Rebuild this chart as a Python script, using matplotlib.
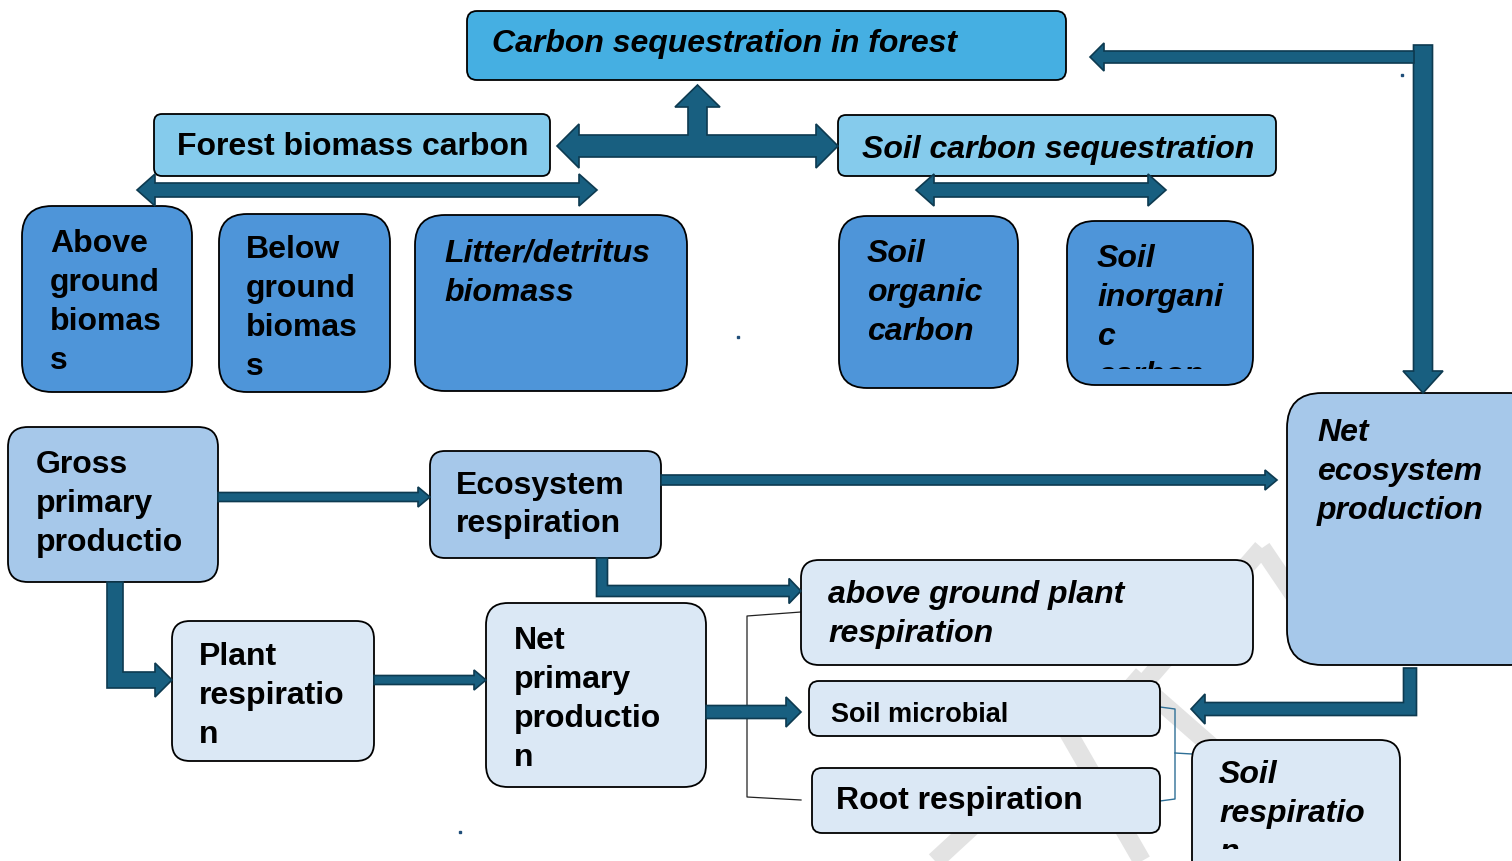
import numpy as np
import matplotlib.pyplot as plt
from matplotlib import font_manager
from matplotlib.patches import FancyBboxPatch, Polygon
from matplotlib.transforms import Bbox

W, H = 1512, 861

ARROW = '#185f80'
ARROW_EDGE = '#0d3a50'
FILLS = {'sky': '#45afe2', 'pale_sky': '#85cbec', 'mid': '#4e95d9',
         'light': '#a6c8ea', 'pale': '#dbe8f5'}

# node texts (lines as they wrap in the original)
node_text = [
    ["Carbon sequestration in forest"],
    ["Forest biomass carbon"],
    ["Soil carbon sequestration"],
    ["Above", "ground", "biomas", "s"],
    ["Below", "ground", "biomas", "s"],
    ["Litter/detritus", "biomass"],
    ["Soil", "organic", "carbon"],
    ["Soil", "inorgani", "c", "carbon"],
    ["Net", "ecosystem", "production"],
    ["Gross", "primary", "productio"],
    ["Ecosystem", "respiration"],
    ["above ground plant", "respiration"],
    ["Plant", "respiratio", "n"],
    ["Net", "primary", "productio", "n"],
    ["Soil microbial"],
    ["Root respiration"],
    ["Soil", "respiratio", "n"],
]
node_fill = ['sky', 'pale_sky', 'pale_sky', 'mid', 'mid', 'mid', 'mid', 'mid',
             'light', 'light', 'light', 'pale', 'pale', 'pale', 'pale', 'pale', 'pale']
node_italic = [True, False, True, False, False, True, True, True,
               True, False, False, True, False, False, False, False, True]

# layout in pixels (x0, y0, x1, y1), y measured downwards
node_box = [(467, 11, 1066, 80), (154, 114, 550, 176), (838, 115, 1276, 176),
            (22, 206, 192, 392), (219, 214, 390, 392), (415, 215, 687, 391),
            (839, 216, 1018, 388), (1067, 221, 1253, 385), (1287, 393, 1545, 665),
            (8, 427, 218, 582), (430, 451, 661, 558), (801, 560, 1253, 665),
            (172, 621, 374, 761), (486, 603, 706, 787), (809, 681, 1160, 736),
            (812, 768, 1160, 833), (1192, 740, 1400, 900)]
node_radius = [10, 8, 8, 30, 28, 30, 28, 28, 35, 20, 15, 18, 18, 22, 10, 10, 20]
node_anchor = [(492, 52), (177, 155), (862, 158), (50, 252), (246, 258), (444, 262),
               (867, 262), (1097, 267), (1317, 441), (36, 473), (456, 494),
               (828, 603), (199, 665), (514, 649), (831, 722), (836, 809), (1219, 783)]
line_step = [39] * 10 + [38] + [39] * 6
clip_bottom = {7: 369, 16: 849}
narrow = {14}
FS = 23

try:
    font_manager.findfont(font_manager.FontProperties(family='Liberation Sans Narrow'),
                          fallback_to_default=False)
    narrow_font, narrow_fs = ['Liberation Sans Narrow', 'Liberation Sans'], 24
except ValueError:
    narrow_font, narrow_fs = ['Liberation Sans', 'DejaVu Sans'], 19.5


def outline(pts, w, hw=0, hl=0, head_start=False, head_end=True):
    p = np.array(pts, float)
    d = np.diff(p, axis=0)
    d /= np.linalg.norm(d, axis=1)[:, None]
    n = np.column_stack([-d[:, 1], d[:, 0]])
    tip_s, tip_e = p[0].copy(), p[-1].copy()
    if head_end:
        p[-1] = p[-1] - d[-1] * hl
    if head_start:
        p[0] = p[0] + d[0] * hl
    offs = [n[0]] + [n[i - 1] + n[i] for i in range(1, len(p) - 1)] + [n[-1]]
    offs = np.array(offs)
    left = p + offs * w / 2
    right = p - offs * w / 2
    poly = list(left)
    if head_end:
        poly += [p[-1] + n[-1] * hw / 2, tip_e, p[-1] - n[-1] * hw / 2]
    poly += list(right[::-1])
    if head_start:
        poly += [p[0] - n[0] * hw / 2, tip_s, p[0] + n[0] * hw / 2]
    return poly


def tee_arrow(xl, xr, cy, w, hl, hw, sx, sw, ytip, shl, shw):
    top, bot = cy - w / 2, cy + w / 2
    return [(xl, cy), (xl + hl, cy - hw / 2), (xl + hl, top), (sx - sw / 2, top),
            (sx - sw / 2, ytip + shl), (sx - shw / 2, ytip + shl), (sx, ytip),
            (sx + shw / 2, ytip + shl), (sx + sw / 2, ytip + shl), (sx + sw / 2, top),
            (xr - hl, top), (xr - hl, cy - hw / 2), (xr, cy), (xr - hl, cy + hw / 2),
            (xr - hl, bot), (xl + hl, bot), (xl + hl, cy + hw / 2)]


fig = plt.figure(figsize=(W / 100, H / 100), dpi=100)
ax = fig.add_axes([0, 0, 1, 1])
ax.set_xlim(0, W)
ax.set_ylim(H, 0)
ax.axis('off')

# faint watermark strokes in the lower right
for xs, ys in [((1262, 1128), (548, 702)), ((1262, 1312), (548, 622)),
               ((1130, 1218), (675, 752)), ((1058, 1142), (715, 861)),
               ((1012, 935), (790, 861))]:
    ax.plot(xs, ys, color='#e3e3e3', lw=13, solid_capstyle='butt', zorder=0)

# boxes and their text
for i, lines in enumerate(node_text):
    x0, y0, x1, y1 = node_box[i]
    r = node_radius[i]
    ax.add_patch(FancyBboxPatch((x0, y0), x1 - x0, y1 - y0,
                                boxstyle=f"round,pad=0,rounding_size={r}",
                                fc=FILLS[node_fill[i]], ec='black', lw=1.3, zorder=2))
    tx, ty = node_anchor[i]
    fam = narrow_font if i in narrow else ['Liberation Sans', 'DejaVu Sans']
    fs = narrow_fs if i in narrow else FS
    for k, line in enumerate(lines):
        t = ax.text(tx, ty + k * line_step[i], line, fontsize=fs, fontweight='bold',
                    style='italic' if node_italic[i] else 'normal', family=fam,
                    ha='left', va='baseline', color='black', zorder=3)
        if i in clip_bottom:
            (cx0, cy0), (cx1, cy1) = ax.transData.transform([(x0, clip_bottom[i]), (x1, y0)])
            t.set_clip_box(Bbox.from_extents(cx0, cy0, cx1, cy1))
            t.set_clip_on(True)

# block arrows
arrows = [
    tee_arrow(557, 838, 146, 22, 22, 44, 697.5, 19, 85, 22, 45),
    outline([(137, 190), (597, 190)], 14, 32, 18, head_start=True),
    outline([(916, 190), (1166, 190)], 14, 32, 18, head_start=True),
    outline([(1423, 45), (1423, 393)], 19, 40, 22),
    outline([(1414, 57), (1090, 57)], 12, 28, 14),
    outline([(218, 497), (430, 497)], 9, 20, 12),
    outline([(661, 480), (1277, 480)], 10, 20, 12),
    outline([(602, 558), (602, 591), (801, 591)], 11, 25, 12),
    outline([(115, 582), (115, 680), (172, 680)], 16, 34, 17),
    outline([(374, 680), (486, 680)], 9, 20, 12),
    outline([(706, 712), (801, 712)], 13, 30, 15),
    outline([(1410, 668), (1410, 709), (1191, 709)], 13, 30, 14),
]
for poly in arrows:
    ax.add_patch(Polygon(poly, closed=True, fc=ARROW, ec=ARROW_EDGE, lw=1.2,
                         joinstyle='miter', zorder=4))

# thin brackets
ax.plot([801, 747, 747, 801], [612, 616, 797, 800], color='#222222', lw=0.9, zorder=1)
ax.plot([1160, 1175, 1175, 1160], [707, 709, 799, 801], color='#2e6f96', lw=1.0, zorder=1)
ax.plot([1175, 1192], [753, 754], color='#2e6f96', lw=1.0, zorder=1)

# stray specks from the source
ax.plot([738, 460, 1402], [337, 832, 75], 's', ms=2, color='#1f4e79', zorder=5)

fig.savefig('out.png', dpi=100)
